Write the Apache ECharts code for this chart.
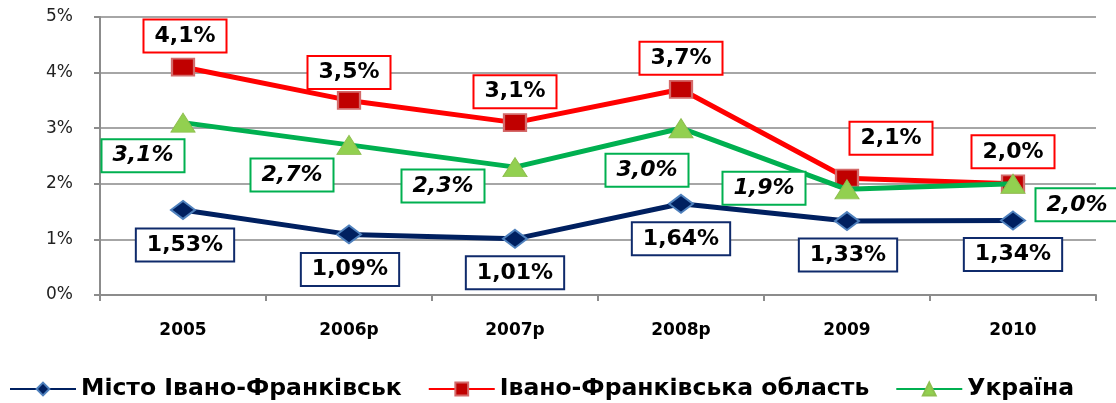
<!DOCTYPE html>
<html lang="uk">
<head>
  <meta charset="UTF-8">
  <title>Chart</title>
  <script src="https://cdn.jsdelivr.net/npm/echarts@6/dist/echarts.min.js"></script>
  <style>
    html, body { margin: 0; padding: 0; background: #fff; }
  </style>
</head>
<body>
<div id="main" style="width: 1116px;height:403px;"></div>
<script type="text/javascript">
  // дані
  var years = ['2005', '2006р', '2007р', '2008р', '2009', '2010'];
  var cityName = 'Місто Івано-Франківськ';
  var regionName = 'Івано-Франківська область';
  var ukraineName = 'Україна';
  var cityValues = [1.53, 1.09, 1.01, 1.64, 1.33, 1.34];
  var regionValues = [4.1, 3.5, 3.1, 3.7, 2.1, 2.0];
  var ukraineValues = [3.1, 2.7, 2.3, 3.0, 1.9, 2.0];
  var cityLabels = ['1,53%', '1,09%', '1,01%', '1,64%', '1,33%', '1,34%'];
  var regionLabels = ['4,1%', '3,5%', '3,1%', '3,7%', '2,1%', '2,0%'];
  var ukraineLabels = ['3,1%', '2,7%', '2,3%', '3,0%', '1,9%', '2,0%'];
  var yTicks = ['0%', '1%', '2%', '3%', '4%', '5%'];

  // зсуви підписів (центр рамки відносно точки)
  var cityShift = [[2, 35], [1, 35], [0, 34], [0, 35], [1, 34], [0, 34]];
  var regionShift = [[2, -31], [0, -28], [0, -31], [0, -31], [44, -40], [0, -32]];
  var ukraineShift = [[-40, 33], [-57, 30], [-72, 19], [-34, 42], [-83, -1], [64, 21]];

  var FONT = '"DejaVu Sans", "Liberation Sans", Arial, sans-serif';

  function makeData(values, labels, shift, border, italic) {
    var out = [];
    for (var i = 0; i < values.length; i++) {
      out.push({
        value: values[i],
        label: {
          show: true,
          position: 'inside',
          offset: shift[i],
          formatter: labels[i],
          color: '#000',
          fontFamily: FONT,
          fontWeight: 'bold',
          fontStyle: italic ? 'italic' : 'normal',
          fontSize: 22,
          lineHeight: 24,
          backgroundColor: '#fff',
          borderColor: border,
          borderWidth: 2,
          padding: [4, 10, 3, 10]
        }
      });
    }
    return out;
  }

  var myChart = echarts.init(document.getElementById('main'));
  myChart.setOption({
    animation: false,
    grid: { left: 100, right: 20, top: 17, bottom: 108 },
    legend: {
      bottom: -3,
      left: 4,
      itemWidth: 66,
      itemHeight: 16,
      itemGap: 26,
      textStyle: { fontFamily: FONT, fontWeight: 'bold', fontSize: 23.5, color: '#000' },
      data: [cityName, regionName, ukraineName]
    },
    xAxis: {
      type: 'category',
      data: years,
      boundaryGap: true,
      axisLine: { lineStyle: { color: '#8c8c8c', width: 2 } },
      axisTick: { show: true, length: 6, lineStyle: { color: '#8c8c8c', width: 2 } },
      axisLabel: { margin: 27, fontFamily: FONT, fontWeight: 'bold', fontSize: 17, color: '#000' },
      splitLine: { show: false }
    },
    yAxis: {
      type: 'value',
      min: 0,
      max: 5,
      interval: 1,
      axisLine: { show: true, lineStyle: { color: '#8c8c8c', width: 2 } },
      axisTick: { show: true, length: 6, lineStyle: { color: '#8c8c8c', width: 2 } },
      axisLabel: {
        margin: 27,
        fontFamily: FONT,
        fontSize: 17,
        color: '#222',
        formatter: function (v) { return yTicks[Math.round(v)]; }
      },
      splitLine: { lineStyle: { color: '#a6a6a6', width: 2 } }
    },
    series: [
      {
        name: cityName,
        type: 'line',
        data: makeData(cityValues, cityLabels, cityShift, '#0f2a6b', false),
        symbol: 'diamond',
        symbolSize: [24, 18],
        lineStyle: { color: '#002060', width: 5 },
        itemStyle: { color: '#002060', borderColor: '#4f81bd', borderWidth: 2 },
        z: 3
      },
      {
        name: regionName,
        type: 'line',
        data: makeData(regionValues, regionLabels, regionShift, '#ff0000', false),
        symbol: 'rect',
        symbolSize: [22, 17],
        lineStyle: { color: '#ff0000', width: 5 },
        itemStyle: { color: '#c00000', borderColor: '#d46a6a', borderWidth: 2 },
        z: 2
      },
      {
        name: ukraineName,
        type: 'line',
        data: makeData(ukraineValues, ukraineLabels, ukraineShift, '#00b050', true),
        symbol: 'triangle',
        symbolSize: [24, 19],
        lineStyle: { color: '#00b050', width: 5 },
        itemStyle: { color: '#92d050', borderColor: '#8fbf4f', borderWidth: 1 },
        z: 4
      }
    ]
  });
</script>
</body>
</html>
